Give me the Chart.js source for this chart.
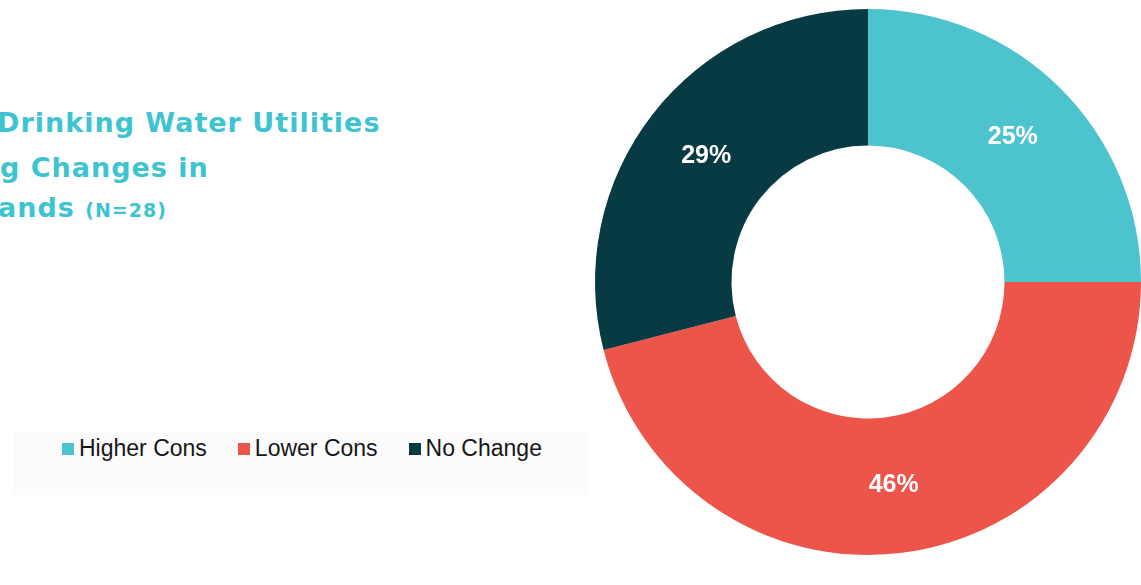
<!DOCTYPE html>
<html>
<head>
<meta charset="utf-8">
<script src="https://cdn.jsdelivr.net/npm/chart.js@4.4.1/dist/chart.umd.min.js"></script>
<style>
  html, body { margin: 0; padding: 0; background: #ffffff; }
  body { width: 1141px; height: 585px; position: relative; overflow: hidden; }
  #chart { position: absolute; left: 0; top: 0; }
  .title-line {
    position: absolute; white-space: nowrap;
    font-family: "DejaVu Sans", sans-serif; font-weight: bold;
    color: #3ec3d1; font-size: 27px; line-height: 1; letter-spacing: 1px;
  }
  .title-line small { font-size: 19px; font-weight: bold; letter-spacing: 1px; }
  #legend {
    position: absolute; left: 14px; top: 431px; width: 574px; height: 64px;
    background: #fcfcfc;
  }
  #legend .items {
    position: absolute; left: 48px; top: 4px; display: flex; align-items: center;
    font-family: "Liberation Sans", Arial, sans-serif; font-size: 23px; color: #161616;
  }
  #legend .item { display: flex; align-items: center; margin-right: 31px; }
  #legend .box { width: 12px; height: 12px; margin-right: 5px; }
</style>
</head>
<body>
<div class="title-line" id="t1" style="left:-3px; top:109px;">Drinking Water Utilities</div>
<div class="title-line" id="t2" style="left:0px; top:154px;">g Changes in</div>
<div class="title-line" id="t3" style="left:-2px; top:194px;">ands <small>(N=28)</small></div>
<div id="legend"><div class="items"></div></div>
<canvas id="chart" width="1141" height="585"></canvas>
<script>
// Share of responding utilities by change in consumption (percent)
const categories = ["Higher Cons", "Lower Cons", "No Change"];
const shares = [25, 46, 29];
const sliceColors = ["#4cc3cd", "#ee554a", "#073a42"];

// Writes each slice's percentage at the middle of its arc
const sliceLabels = {
  id: "sliceLabels",
  afterDatasetsDraw(chart) {
    const ctx = chart.ctx;
    const meta = chart.getDatasetMeta(0);
    ctx.save();
    ctx.font = "bold 25px 'Liberation Sans', Arial, sans-serif";
    ctx.fillStyle = "#ffffff";
    ctx.textAlign = "center";
    ctx.textBaseline = "middle";
    meta.data.forEach((arc, i) => {
      const p = arc.getCenterPoint();
      ctx.fillText(chart.data.datasets[0].data[i] + "%", p.x, p.y);
    });
    ctx.restore();
  }
};

const chart = new Chart(document.getElementById("chart"), {
  type: "doughnut",
  data: {
    labels: categories,
    datasets: [{
      data: shares,
      backgroundColor: sliceColors,
      borderWidth: 0
    }]
  },
  options: {
    responsive: false,
    animation: false,
    cutout: "50%",
    layout: { padding: { left: 595, top: 9, right: 0, bottom: 30 } },
    plugins: {
      legend: { display: false },
      tooltip: { enabled: false }
    }
  },
  plugins: [sliceLabels]
});

// Legend row built from the chart's own legend items
const itemsEl = document.querySelector("#legend .items");
chart.options.plugins.legend.labels.generateLabels(chart).forEach(item => {
  const el = document.createElement("div");
  el.className = "item";
  const box = document.createElement("span");
  box.className = "box";
  box.style.background = item.fillStyle;
  const txt = document.createElement("span");
  txt.textContent = item.text;
  el.appendChild(box);
  el.appendChild(txt);
  itemsEl.appendChild(el);
});
</script>
</body>
</html>
